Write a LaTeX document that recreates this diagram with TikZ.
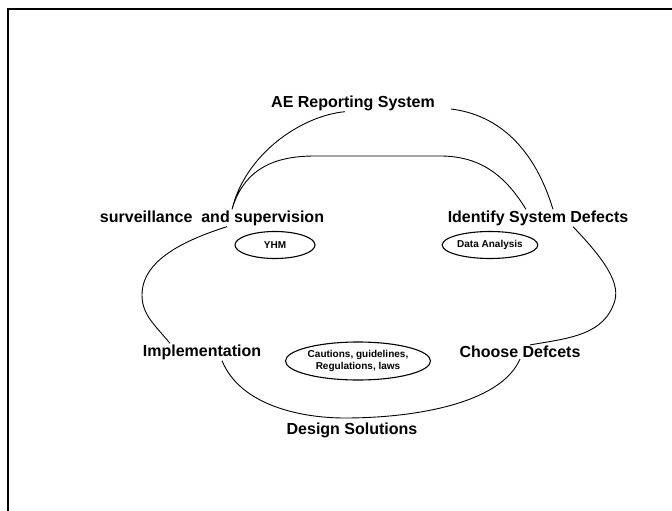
\documentclass[tikz,border=0pt]{standalone}
\usepackage{fontspec}
\setmainfont{Liberation Sans}
\usepackage{tikz}
\usetikzlibrary{shapes}
\usetikzlibrary{positioning}
\tikzstyle{etape}=[inner sep=1pt,font=\fontsize{16}{18}\selectfont\bfseries]
\tikzstyle{outil}=[ellipse,draw,line width=1.1pt,inner sep=1pt,font=\fontsize{10}{12}\selectfont\bfseries,align=center]
\tikzstyle{lien}=[line width=0.9pt]

\begin{document}
\begin{tikzpicture}[x=1pt,y=-1pt]
\useasboundingbox (0,0) rectangle (672,511);
\draw[line width=1.2pt] (8,511) -- (8,9) -- (672,9);
\node[etape] (ae) at (353,103) {AE Reporting System};
\node[etape] (surv) at (212,218) {surveillance\ \ and supervision};
\node[etape] (ident) at (538,218) {Identify System Defects};
\node[etape] (impl) at (202,352) {Implementation};
\node[etape] (choix) at (520,352) {Choose Defcets};
\node[etape] (sol) at (352,430) {Design Solutions};
\node[outil,minimum width=80pt,minimum height=27pt] (yhm) at (275,245) {YHM};
\node[outil,minimum width=80pt,minimum height=27pt] (data) at (490,245) {Data Analysis};
\node[outil,minimum width=132pt,minimum height=38pt] (regl) at (358,361) {Cautions, guidelines,\\Regulations, laws};
%Placementdesliens
\draw[lien] ([xshift=-8pt]ae.south) .. controls (300,116) and (245,155) .. ([xshift=20pt]surv.north)
  .. controls (245,165) and (280,156) .. (315,156) -- (440,156)
  .. controls (480,156) and (505,175) .. ([xshift=-12pt]ident.north);
\draw[lien] ([xshift=15pt,yshift=-6pt]ae.east) .. controls (500,115) and (535,150) .. ([xshift=15pt]ident.north);
\draw[lien] ([xshift=15pt]surv.south) .. controls (185,240) and (142,260) .. (142,295)
  .. controls (142,315) and (155,325) .. ([xshift=-32pt]impl.north);
\draw[lien] ([xshift=20pt]impl.south) .. controls (240,405) and (300,418) .. (345,418)
  .. controls (410,418) and (500,405) .. (choix.south);
\draw[lien] ([xshift=35pt]ident.south) .. controls (600,255) and (620,280) .. (615,300)
  .. controls (605,335) and (570,338) .. ([xshift=10pt]choix.north);
\end{tikzpicture}
\end{document}
